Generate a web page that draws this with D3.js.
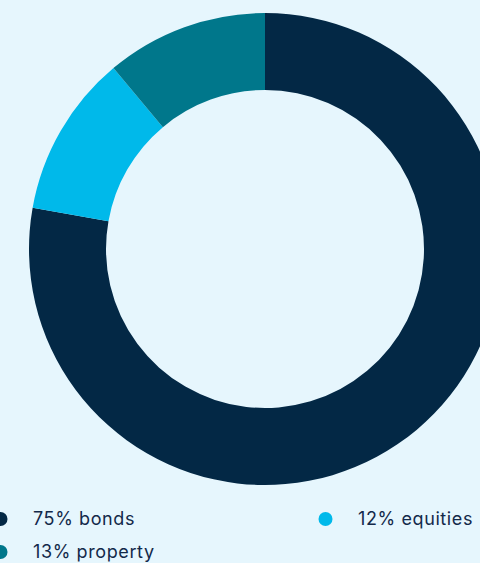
<!DOCTYPE html>
<html>
<head>
<meta charset="utf-8">
<script src="https://cdn.jsdelivr.net/npm/d3@7"></script>
<style>
  html, body { margin: 0; padding: 0; background: #e6f6fd; overflow: hidden; }
  svg { display: block; }
</style>
</head>
<body>
<svg id="chart" width="480" height="563"></svg>
<script>
// Slice order as drawn (clockwise from 12 o'clock)
const categories = ["bonds", "equities", "property"];
const shares = [77.8, 11.1, 11.1];          // drawn arc sizes
const labels = ["75% bonds", "12% equities", "13% property"];
const colors = ["#032845", "#00b9ea", "#00778b"];

const svg = d3.select("#chart");
const cx = 265, cy = 249;
const outerR = 236, innerR = 159;

const pie = d3.pie().sort(null).value(d => d);
const arc = d3.arc().innerRadius(innerR).outerRadius(outerR);
const color = d3.scaleOrdinal().domain(categories).range(colors);

const g = svg.append("g").attr("transform", `translate(${cx},${cy})`);
g.selectAll("path")
  .data(pie(shares))
  .enter().append("path")
  .attr("d", arc)
  .attr("fill", (d, i) => color(categories[i]));

// Legend
const legendPos = [
  {x: 0, y: 519},
  {x: 325, y: 519},
  {x: 0, y: 552}
];
const legend = svg.append("g");
categories.forEach((c, i) => {
  const p = legendPos[i];
  legend.append("circle")
    .attr("cx", p.x + 0.5).attr("cy", p.y).attr("r", 7)
    .attr("fill", color(c));
  legend.append("text")
    .attr("x", p.x + 33).attr("y", p.y + 6)
    .attr("font-family", "Inter, 'Noto Sans', sans-serif")
    .attr("font-size", 18)
    .attr("letter-spacing", 0.6)
    .attr("fill", "#13294a")
    .text(labels[i]);
});
</script>
</body>
</html>
